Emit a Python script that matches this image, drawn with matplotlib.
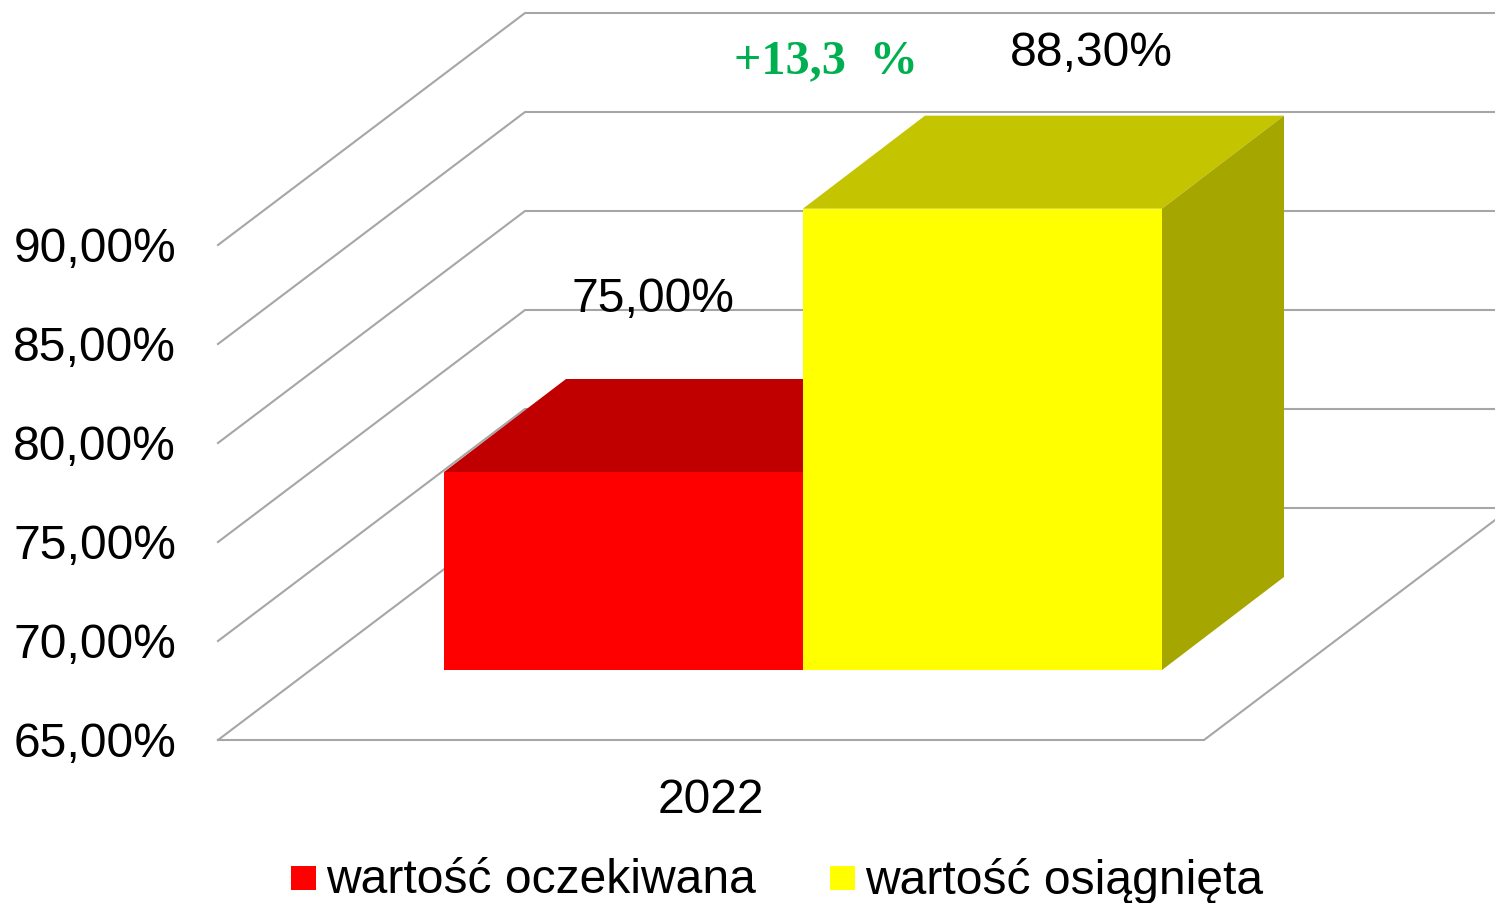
import matplotlib
matplotlib.use('Agg')
import matplotlib.pyplot as plt
from matplotlib.patches import Polygon, Rectangle

# --- data ---
tick_values = [65, 70, 75, 80, 85, 90]
tick_labels = ['65,00%', '70,00%', '75,00%', '80,00%', '85,00%', '90,00%']
series_names = ['wartość oczekiwana', 'wartość osiągnięta']
series_values = [75.0, 88.3]
value_labels = ['75,00%', '88,30%']
category = '2022'
delta_label = '+13,3  %'

# --- colours ---
front_colors = ['#FF0000', '#FFFF00']
top_colors = ['#C00000', '#C4C400']
side_color = '#A6A600'
grid_color = '#A6A6A6'

plt.rcParams['font.family'] = ['Liberation Sans', 'DejaVu Sans']
FS = 34.6

# --- geometry of the fake 3d box, in pixels ---
W, H = 1495, 904
Y0 = 741          # floor front edge
PX_PER_UNIT = 19.8
FRONT_L, FRONT_R = 218, 1204
BACK_DX, BACK_DY = 307, -232
BAR_Y0 = 671      # bar base front
BAR_X = [444, 803]
BAR_W = 359
BAR_DX, BAR_DY = 122, -93


def val_y(v):
    return Y0 - (v - tick_values[0]) * PX_PER_UNIT


fig = plt.figure(figsize=(W / 100, H / 100), dpi=100)
ax = fig.add_axes([0, 0, 1, 1])
ax.set_xlim(0, W)
ax.set_ylim(H, 0)
ax.axis('off')

# gridlines: side wall + back wall
for v, lab in zip(tick_values, tick_labels):
    y = val_y(v)
    xs = [FRONT_L, FRONT_L + BACK_DX, W]
    ys = [y, y + BACK_DY, y + BACK_DY]
    ax.plot(xs, ys, color=grid_color, lw=1.5, zorder=1, solid_joinstyle='miter')
    ax.text(176, y + 4, lab, ha='right', va='center', fontsize=FS, color='black')

# floor front and right edges
floor_right_dx = W - FRONT_R
ax.plot([FRONT_L, FRONT_R, W],
        [Y0, Y0, Y0 + BACK_DY * floor_right_dx / BACK_DX],
        color=grid_color, lw=1.5, zorder=1)

# bars, red first so yellow sits over it
for i, v in enumerate(series_values):
    x0 = BAR_X[i]
    x1 = x0 + BAR_W
    top = BAR_Y0 - (v - tick_values[0]) * PX_PER_UNIT
    ax.add_patch(Polygon([(x0, top), (x1, top), (x1 + BAR_DX, top + BAR_DY), (x0 + BAR_DX, top + BAR_DY)],
                         closed=True, fc=top_colors[i], ec='none', zorder=2 + i))
    ax.add_patch(Polygon([(x1, top), (x1 + BAR_DX, top + BAR_DY), (x1 + BAR_DX, BAR_Y0 + BAR_DY), (x1, BAR_Y0)],
                         closed=True, fc=side_color, ec='none', zorder=2 + i))
    ax.bar(x0, BAR_Y0 - top, width=BAR_W, bottom=top, align='edge', color=front_colors[i], zorder=2 + i)

# labels
ax.text(653, 300, value_labels[0], ha='center', va='center', fontsize=FS, zorder=6)
ax.text(1091, 54, value_labels[1], ha='center', va='center', fontsize=FS, zorder=6)
ax.text(826, 61, delta_label, ha='center', va='center', fontsize=34.7, fontweight='bold',
        family=['Liberation Serif', 'DejaVu Serif'], color='#00B050', zorder=6)
ax.text(711, 801, category, ha='center', va='center', fontsize=FS)

# legend
legend_x = [291, 830]
for x, name, c in zip(legend_x, series_names, front_colors):
    ax.add_patch(Rectangle((x, 867), 25, 24, fc=c, ec='none'))
    ax.text(x + 35, 881, name, ha='left', va='center', fontsize=FS)

fig.savefig('out.png', dpi=100)
